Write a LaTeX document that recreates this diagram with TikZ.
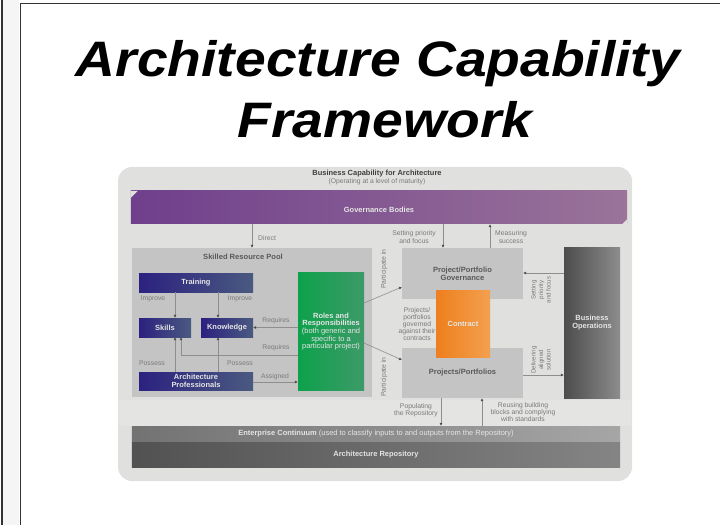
\documentclass[tikz,border=0pt]{standalone}
\usepackage{fontspec}
\setmainfont{Liberation Sans}
\usetikzlibrary{arrows.meta,calc}
\definecolor{panel}{HTML}{E0E0DE}
\definecolor{bandc}{HTML}{E4E4E2}
\definecolor{pool}{HTML}{C4C4C4}
\definecolor{lab}{HTML}{7A7A7A}
\definecolor{wire}{HTML}{8E8E8E}
\definecolor{blueA}{HTML}{2C2180}
\definecolor{blueB}{HTML}{4A5A80}
\definecolor{govA}{HTML}{6F3F8C}
\definecolor{govB}{HTML}{9A7499}
\definecolor{greenA}{HTML}{0DA14B}
\definecolor{greenB}{HTML}{3D9A68}
\definecolor{orangeA}{HTML}{EE7F1E}
\definecolor{orangeB}{HTML}{F2A04E}
\tikzset{
  x=1bp,y=-1bp,
  wirearrow/.style={draw=wire,line width=0.6bp,-{Latex[length=3bp,width=3bp,color=black!70]}},
  lbl/.style={text=lab,font=\fontsize{6.8}{7.2}\selectfont,align=center,inner sep=0pt},
  hdr/.style={text=black!65,font=\fontsize{7.6}{8}\selectfont\bfseries,align=center,inner sep=0pt},
  whitelbl/.style={text=white!90!black,font=\fontsize{7.5}{7.6}\selectfont,align=center,inner sep=0pt},
  wbold/.style={whitelbl,font=\fontsize{7.5}{8}\selectfont\bfseries},
  boxbase/.style={draw=none,inner sep=0pt,minimum width=#1},
  boxh/.style={minimum height=#1},
  bluebox/.style={left color=blueA,right color=blueB},
  greybox/.style={fill=pool},
  frameline/.style={draw=black!80,line width=1.8bp},
  titletext/.style={inner sep=0pt,anchor=base,font=\fontsize{50}{60}\selectfont\bfseries\itshape},
}
\begin{document}
\begin{tikzpicture}
\useasboundingbox (0,0) rectangle (720,525);
\fill[white] (0,0) rectangle (720,525);
\fill[black!4] (3,0) rectangle (19,525);
\coordinate (fa) at (2,0); \coordinate (fb) at (2,525);
\coordinate (fc) at (20.5,525); \coordinate (fd) at (20.5,3.5); \coordinate (fe) at (720,3.5);
\draw[frameline] (fa) -- (fb);
\draw[frameline] (fc) -- (fd) -- (fe);
\node[titletext] (title1) at (378,77) {\scalebox{1.108}[1]{Architecture Capability}};
\node[titletext] (title2) at (385,138) {\scalebox{1.108}[1]{Framework}};
% panel
\fill[panel,rounded corners=14bp] (118,167) rectangle (632,481);
\fill[bandc] (119,400) rectangle (631,426);
\node[hdr,text=black!75,font=\fontsize{7.5}{8}\selectfont\bfseries] (head1) at (377,174) {Business Capability for Architecture};
\node[lbl] (head2) at (377,181.5) {(Operating at a level of maturity)};
% governance
\node[boxbase=496bp,boxh=33bp,left color=govA,right color=govB] (gov) at (379,207.5) {};
\fill[panel] (gov.north west) -- ++(7,0) -- ++(-7,7) -- cycle;
\fill[panel] (gov.south east) -- ++(-5,0) -- ++(5,-5) -- cycle;
\node[wbold] (govt) at (379,210) {Governance Bodies};
% pool
\node[boxbase=240bp,boxh=149bp,greybox] (pool) at (252,322.5) {};
\node[hdr] (poolt) at (243,257) {Skilled Resource Pool};
\node[boxbase=114bp,boxh=19bp,bluebox,wbold] (train) at (196,282.5) {Training};
\node[boxbase=52bp,boxh=19bp,bluebox,wbold] (skills) at (165,327.5) {Skills};
\node[boxbase=52bp,boxh=19bp,bluebox,wbold] (know) at (227,327.5) {Knowledge};
\node[boxbase=114bp,boxh=18bp,bluebox,wbold] (arch) at (196,381) {Architecture\\Professionals};
\node[boxbase=66bp,boxh=117bp,left color=greenA,right color=greenB,whitelbl] (roles) at (331,331.5) {\textbf{Roles and}\\\textbf{Responsibilities}\\(both generic and\\specific to a\\particular project)};
% right blocks
\node[boxbase=121bp,boxh=51bp,greybox,hdr] (ppg) at (462.5,273.5) {Project/Portfolio\\Governance};
\node[boxbase=121bp,boxh=50bp,greybox,hdr] (proj) at (462.5,373) {Projects/Portfolios};
\node[boxbase=54bp,boxh=67bp,left color=orangeA,right color=orangeB,wbold] (contract) at (463,323.5) {Contract};
\node[boxbase=56bp,boxh=150bp,left color=black!70,right color=black!45,wbold] (ops) at (592,323) {Business\\Operations};
% repository
\node[boxbase=488bp,boxh=16bp,left color=black!55,right color=black!35,whitelbl] (cont) at (376,434) {\textbf{Enterprise Continuum} (used to classify inputs to and outputs from the Repository)};
\node[boxbase=488bp,boxh=25bp,left color=black!68,right color=black!48,wbold] (repo) at (376,454.5) {Architecture Repository};
% connectors
\draw[wirearrow] (pool.north |- gov.south) -- (pool.north);
\coordinate (xsp) at (443,0); \coordinate (xms) at (490,0);
\draw[wirearrow] (xsp |- gov.south) -- (xsp |- ppg.north);
\draw[wirearrow] (xms |- ppg.north) -- (xms |- gov.south);
\coordinate (ya) at (0,273); \coordinate (yb) at (0,375);
\draw[wirearrow] (ops.west |- ya) -- (ppg.east |- ya);
\draw[wirearrow] (proj.east |- yb) -- (ops.west |- yb);
\coordinate (pa) at (364,303); \coordinate (pb) at (402,287);
\coordinate (pc) at (364,343); \coordinate (pd) at (402,360);
\draw[wirearrow] (pa) -- (pb);
\draw[wirearrow] (pc) -- (pd);
\coordinate (xl) at (175,0); \coordinate (xk) at (218,0); \coordinate (xm) at (181,0);
\draw[wirearrow] (xl |- train.south) -- (xl |- skills.north);
\draw[wirearrow] (xk |- train.south) -- (xk |- know.north);
\draw[wirearrow] (xl |- arch.north) -- (xl |- skills.south);
\draw[wirearrow] (xk |- arch.north) -- (xk |- know.south);
\coordinate (yr) at (0,355);
\draw[wirearrow] (roles.west |- know.east) -- (know.east);
\draw[wirearrow] (roles.west |- yr) -- (xm |- yr) -- (xm |- skills.south);
\coordinate (yn) at (0,382);
\draw[wirearrow] (arch.east |- yn) -- (roles.west |- yn);
\coordinate (xp) at (441,0); \coordinate (xq) at (482,0);
\draw[wirearrow] (xp |- proj.south) -- (xp |- cont.north);
\draw[wirearrow] (xq |- cont.north) -- (xq |- proj.south);
% labels
\node[lbl,anchor=west] (l1) at (258,238) {Direct};
\node[lbl] (l2) at (414,237) {Setting priority\\and focus};
\node[lbl] (l3) at (511,237) {Measuring\\success};
\node[lbl,rotate=90] (l4) at (384,269) {Participate in};
\node[lbl,rotate=90] (l5) at (384,377) {Participate in};
\node[lbl] (l6) at (153,299) {Improve};
\node[lbl] (l7) at (240,299) {Improve};
\node[lbl] (l8) at (152,363) {Possess};
\node[lbl] (l9) at (240,363) {Possess};
\node[lbl] (l10) at (276,321) {Requires};
\node[lbl] (l11) at (276,348) {Requires};
\node[lbl] (l12) at (275,377) {Assigned};
\node[lbl] (l13) at (417,324) {Projects/\\portfolios\\governed\\against their\\contracts};
\node[lbl,rotate=90,font=\fontsize{6.2}{7.5}\selectfont] (l14) at (541,290) {Setting\\priority\\and focus};
\node[lbl,rotate=90,font=\fontsize{6.2}{7.5}\selectfont] (l15) at (541,360) {Delivering\\aligned\\solution};
\node[lbl] (l16) at (416,410) {Populating\\the Repository};
\node[lbl] (l17) at (523,412) {Reusing building\\blocks and complying\\with standards};
\end{tikzpicture}
\end{document}
